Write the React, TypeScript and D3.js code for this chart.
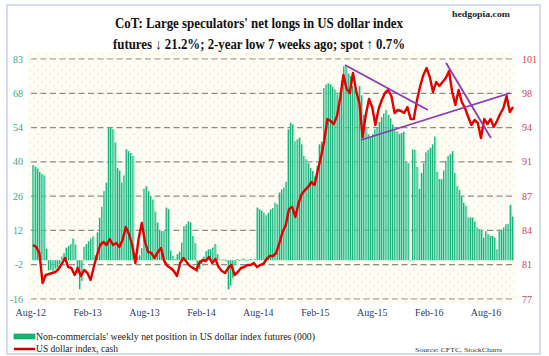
import React from "react";
import * as d3 from "d3";

const W = 549;
const H = 356;

const leftTicks = ["83", "68", "54", "40", "26", "12", "-2", "-16"];
const rightTicks = ["101", "98", "94", "91", "87", "84", "81", "77"];
const xLabels = ["Aug-12", "Feb-13", "Aug-13", "Feb-14", "Aug-14", "Feb-15", "Aug-15", "Feb-16", "Aug-16"];
const xLabelIdx = [-1, 24.6, 50.2, 75.9, 101.5, 127.2, 152.8, 178.5, 204.1];

// Non-commercials' weekly net position (000)
const netLongs = [
  39.3, 38.6, 37.8, 36.5, 35.6, 35.0, 4.8, -4.2, -4.0, -4.4, -3.5, -3.0, -1.5,
  1.5, 3.0, 5.2, 5.9, 6.6, 8.9, 6.5, -5.5, -12.0, -8.5, 5.5, 6.6, 7.8, 9.0, 9.8,
  2.0, 11.5, 17.5, 22.0, 28.5, 32.0, 54.5, 54.5, 54.0, 48.5, 38.0, 37.0, 32.0, 35.0,
  45.7, 45.0, 44.2, 43.0, 3.0, 1.5, 2.0, 5.0, 29.5, 30.5, 28.5, 26.5, 25.0, 20.0, 15.5,
  12.5, 12.0, 12.0, 21.7, 21.0, 4.0, 1.8, 0.5, 2.5, 3.5, 7.3, 14.0, 14.8, 16.0, 15.5,
  10.0, 7.0, -5.0, -3.7, -1.5, 1.5, 3.8, 4.5, 4.5, 5.2, 6.6, 2.5, 0.3, 0.2, 0.4, -0.5,
  -12.0, -10.5, -7.5, -2.0, 0.5, -0.3, 0.4, 0.6, -0.4, 0.3, 0.5, 0.2, 0.4,
  21.7, 21.0, 20.5, 19.6, 18.5, 19.6, 21.0, 21.5, 23.7, 23.0, 27.9, 29.2, 30.0, 32.3,
  54.0, 56.7, 56.0, 49.0, 49.8, 50.5, 47.8, 43.0, 41.6, 40.0, 38.0, 36.8, 34.7, 38.9,
  47.8, 49.0, 71.0, 72.5, 73.0, 72.5, 71.5, 70.4, 68.4, 65.0, 74.0, 80.0, 80.0, 77.0,
  76.0, 72.0, 70.5, 69.0, 71.8, 68.0, 60.0, 55.0, 52.0, 50.5, 52.0, 54.0, 55.0, 57.0,
  59.0, 60.5, 62.0, 60.0, 58.5, 56.0, 53.5, 53.0, 52.0, 52.5, 53.0, 40.5, 40.0, 0,
  45.7, 45.5, 38.5, 29.5, 36.0, 40.0, 44.5, 45.5, 46.4, 47.8, 51.0, 36.5, 33.5, 33.4,
  37.0, 41.0, 43.0, 43.7, 45.0, 36.0, 30.6, 29.0, 26.5, 23.7, 22.5, 17.6, 17.6, 17.6,
  16.0, 13.5, 12.8, 12.5, 9.3, 12.0, 10.7, 10.0, 10.0, 9.3, 4.5, 12.0, 12.5, 13.5,
  14.8, 15.0, 22.8, 18.0,
];

// US dollar index, cash
const usdIndex = [
  82.4, 82.2, 81.6, 78.6, 79.4, 79.5, 79.6, 79.7, 80.0, 80.5, 81.1, 80.2, 80.1, 79.4,
  80.1, 79.3, 79.9, 79.6, 78.9, 80.2, 81.4, 82.4, 82.7, 82.4, 83.0, 82.4, 82.6, 82.2,
  82.9, 84.2, 83.5, 82.4, 80.6, 83.0, 84.6, 82.7, 81.7, 81.6, 81.1, 81.7, 82.1, 80.8,
  80.3, 80.1, 79.8, 79.3, 80.6, 81.1, 80.7, 80.3, 80.1, 79.9, 80.6, 80.9, 80.8, 81.2,
  80.6, 81.0, 80.2, 79.8, 79.6, 80.1, 80.4, 79.4, 79.7, 80.1, 80.2, 80.4, 80.4, 80.6,
  80.2, 80.4, 80.5, 81.0, 81.3, 81.3, 81.6, 82.6, 83.7, 84.4, 86.0, 86.2, 85.2, 86.6,
  87.5, 87.9, 88.2, 88.7, 88.4, 89.9, 91.2, 92.8, 95.0, 94.8, 94.5, 95.3, 97.1, 99.4,
  98.0, 97.6, 99.6, 97.8, 96.6, 93.2, 95.4, 97.0, 96.2, 94.4, 96.0, 96.9, 97.6, 97.9,
  97.3, 95.6, 95.9, 95.8, 95.6, 96.2, 95.0, 95.0, 96.9, 98.3, 99.4, 100.1, 99.2, 97.7,
  98.7, 98.3, 98.7, 99.1, 99.8, 97.7, 96.4, 97.9, 96.7, 96.1, 95.2, 94.4, 94.9, 94.6,
  93.1, 95.0, 94.5, 95.0, 94.2, 94.8, 95.5, 96.1, 97.3, 95.7, 96.2,
];

// Trendlines drawn on the dollar index: [start, end] as [line index, index value]
const trendStart = [[97.5, 100.4], [102.5, 92.9], [129.1, 100.6]];
const trendEnd = [[123.4, 95.9], [149.1, 97.6], [143.1, 93.1]];

const SERIF = "'Liberation Serif', 'DejaVu Serif', Times, serif";

export default function App() {
  const plotTop = 59;
  const plotBottom = 299;
  const gridLeft = 31;
  const gridRight = 514;

  const yL = d3.scaleLinear().domain([-16, 83]).range([plotBottom, plotTop]);
  const yR = d3.scaleLinear().domain([77, 101]).range([plotBottom, plotTop]);
  const xB = d3.scaleLinear().domain([0, netLongs.length - 1]).range([33, 512.5]);
  const xL = d3.scaleLinear().domain([0, usdIndex.length - 1]).range([33, 513]);

  const tickYs = d3.range(leftTicks.length).map((k) => yL(83 - (k * 99) / 7));

  const line = d3
    .line<number>()
    .x((_, i) => xL(i))
    .y((d) => yR(d))
    .curve(d3.curveLinear);

  const barW = (xB(1) - xB(0)) * 0.62;

  return (
    <svg width={W} height={H} style={{ position: "absolute", left: 0, top: 0, background: "#fff" }}>
      <defs>
        <pattern id="dots" width="8" height="8" patternUnits="userSpaceOnUse">
          <rect width="8" height="8" fill="#fffef6" />
          <circle cx="2" cy="2" r="0.7" fill="#efe3a0" />
          <circle cx="6" cy="6" r="0.7" fill="#efe3a0" />
        </pattern>
      </defs>
      <rect x={7} y={5} width={533} height={349} fill="#fff" stroke="#c9d2e3" strokeWidth={1.5} />
      <rect x={28} y={52} width={489} height={252} fill="url(#dots)" />

      {/* title */}
      <text x={259} y={28} textAnchor="middle" fontFamily={SERIF} fontWeight="bold" fontSize={14.5}
        fill="#111" textLength={288} lengthAdjust="spacingAndGlyphs">
        CoT: Large speculators' net longs in US dollar index
      </text>
      <text x={259} y={49} textAnchor="middle" fontFamily={SERIF} fontWeight="bold" fontSize={14.5}
        fill="#111" textLength={292} lengthAdjust="spacingAndGlyphs">
        futures ↓ 21.2%; 2-year low 7 weeks ago; spot ↑ 0.7%
      </text>
      <text x={510} y={17} textAnchor="end" fontFamily={SERIF} fontWeight="bold" fontSize={8.5}
        fill="#222" textLength={58} lengthAdjust="spacingAndGlyphs">
        hedgopia.com
      </text>

      {/* gridlines */}
      {tickYs.map((y, k) => (
        <line key={"g" + k} x1={gridLeft} x2={gridRight} y1={y} y2={y}
          stroke="#8c8c8c" strokeWidth={1.2} strokeDasharray="6,3.5" />
      ))}

      {/* bars */}
      {netLongs.map((v, i) => (
        <rect key={"b" + i}
          x={xB(i) - barW / 2}
          y={Math.min(yL(v), yL(0))}
          width={barW}
          height={Math.max(Math.abs(yL(v) - yL(0)), 0.6)}
          fill="#18b27a" />
      ))}
      {netLongs.map((v, i) => (
        <rect key={"bl" + i}
          x={xB(i) + barW / 2}
          y={Math.min(yL(v), yL(0))}
          width={xB(1) - xB(0) - barW}
          height={Math.max(Math.abs(yL(v) - yL(0)), 0.6)}
          fill="#7fe0bd" />
      ))}

      {/* dollar index */}
      <path d={line(usdIndex) || ""} fill="none" stroke="#e20000" strokeWidth={2.4} strokeLinejoin="round" />

      {/* trendlines */}
      {trendStart.map((s, k) => (
        <line key={"t" + k} x1={xL(s[0])} y1={yR(s[1])} x2={xL(trendEnd[k][0])} y2={yR(trendEnd[k][1])}
          stroke="#8b3ab5" strokeWidth={1.8} />
      ))}

      {/* left axis labels */}
      {tickYs.map((y, k) => (
        <text key={"l" + k} x={23} y={y + 3.5} textAnchor="end" fontFamily={SERIF} fontSize={10} fill="#3aa88c">
          {leftTicks[k]}
        </text>
      ))}
      {/* right axis labels */}
      {tickYs.map((y, k) => (
        <text key={"r" + k} x={522} y={y + 3.5} textAnchor="start" fontFamily={SERIF} fontSize={10} fill="#cc4455">
          {rightTicks[k]}
        </text>
      ))}
      {/* x labels */}
      {xLabels.map((t, k) => (
        <text key={"x" + k} x={xB(xLabelIdx[k])} y={316} textAnchor="middle" fontFamily={SERIF} fontSize={10} fill="#2d3b6b">
          {t}
        </text>
      ))}

      {/* legend */}
      <rect x={14} y={334} width={21} height={5} fill="#12b870" stroke="#0a9a5a" strokeWidth={0.6} />
      <text x={36} y={340} fontFamily={SERIF} fontSize={9.5} fill="#222" textLength={279} lengthAdjust="spacingAndGlyphs">
        Non-commercials' weekly net position in US dollar index futures (000)
      </text>
      <line x1={14} x2={35} y1={349} y2={349} stroke="#cc0000" strokeWidth={2.5} />
      <text x={36} y={352} fontFamily={SERIF} fontSize={9.5} fill="#222" textLength={82} lengthAdjust="spacingAndGlyphs">
        US dollar index, cash
      </text>
      <text x={502} y={352} textAnchor="end" fontFamily={SERIF} fontSize={7} fill="#333" textLength={87} lengthAdjust="spacingAndGlyphs">
        Source: CFTC, StockCharts
      </text>
    </svg>
  );
}
